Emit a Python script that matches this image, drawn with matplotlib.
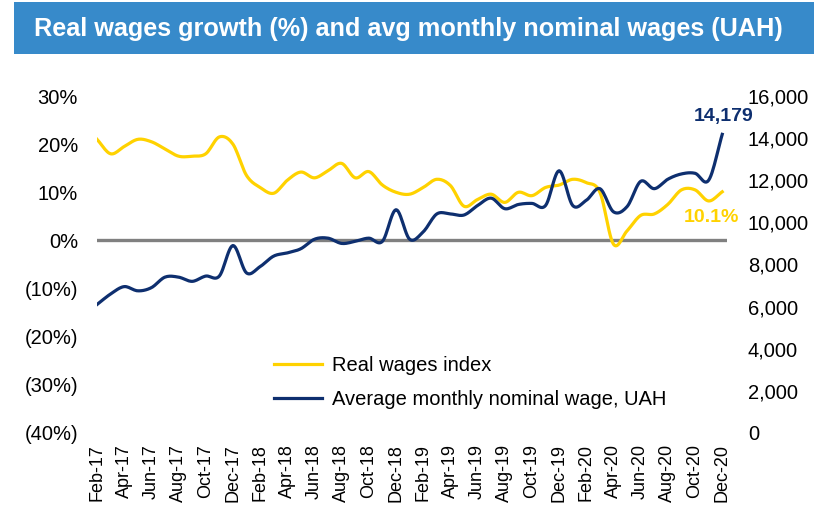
import numpy as np
import matplotlib
matplotlib.use("Agg")
import matplotlib.pyplot as plt
from matplotlib.patches import Rectangle
from matplotlib.ticker import FuncFormatter, FixedLocator

plt.rcParams["font.family"] = ["Liberation Sans", "DejaVu Sans"]

# monthly, Feb-17 .. Dec-20
real_wages = [21.0, 18.0, 19.5, 21.0, 20.5, 19.0, 17.5, 17.5, 18.0, 21.5,
              20.0, 13.5, 11.0, 9.8, 12.5, 14.2, 13.0, 14.5, 16.0, 13.0,
              14.3, 11.5, 10.0, 9.6, 11.0, 12.7, 11.4, 7.1, 8.5, 9.6,
              7.9, 10.0, 9.3, 11.0, 11.5, 12.7, 12.0, 10.0, -0.8, 2.0,
              5.2, 5.5, 7.5, 10.5, 10.5, 8.2, 10.1]
nominal_wage = [6100, 6600, 6950, 6750, 6900, 7400, 7400, 7200, 7450, 7450,
                8900, 7600, 7900, 8400, 8550, 8750, 9200, 9250, 9000, 9100,
                9250, 9100, 10600, 9200, 9550, 10400, 10400, 10350, 10800, 11150,
                10650, 10850, 10900, 10800, 12450, 10800, 11050, 11600, 10500, 10750,
                11950, 11600, 12050, 12300, 12330, 12000, 14179]
tick_labels = ["Feb-17", "Apr-17", "Jun-17", "Aug-17", "Oct-17", "Dec-17",
               "Feb-18", "Apr-18", "Jun-18", "Aug-18", "Oct-18", "Dec-18",
               "Feb-19", "Apr-19", "Jun-19", "Aug-19", "Oct-19", "Dec-19",
               "Feb-20", "Apr-20", "Jun-20", "Aug-20", "Oct-20", "Dec-20"]

YELLOW = "#FFD200"
NAVY = "#0E2F6F"
BANNER = "#378ACA"


def smooth(x, y, n=12):
    """Catmull-Rom curve through the points, like Excel's smoothed line."""
    x = np.asarray(x, float)
    y = np.asarray(y, float)
    px = np.concatenate([[2 * x[0] - x[1]], x, [2 * x[-1] - x[-2]]])
    py = np.concatenate([[2 * y[0] - y[1]], y, [2 * y[-1] - y[-2]]])
    t = np.linspace(0, 1, n, endpoint=False)
    xs, ys = [], []
    for i in range(1, len(px) - 2):
        for p, out in ((px, xs), (py, ys)):
            p0, p1, p2, p3 = p[i - 1], p[i], p[i + 1], p[i + 2]
            out.extend(0.5 * (2 * p1 + (-p0 + p2) * t
                              + (2 * p0 - 5 * p1 + 4 * p2 - p3) * t ** 2
                              + (-p0 + 3 * p1 - 3 * p2 + p3) * t ** 3))
    xs.append(x[-1])
    ys.append(y[-1])
    return np.array(xs), np.array(ys)


fig = plt.figure(figsize=(8.14, 5.17), dpi=100)

# title banner
fig.add_artist(Rectangle((14 / 814, 1 - 54 / 517), 800 / 814, 52 / 517,
                         transform=fig.transFigure, color=BANNER, lw=0))
fig.text(34 / 814, 1 - 36 / 517,
         "Real wages growth (%) and avg monthly nominal wages (UAH)",
         color="white", fontsize=18.2, fontweight="bold", va="baseline", ha="left")

ax = fig.add_axes([97 / 814, 1 - 433 / 517, 630 / 814, 337 / 517])
ax2 = ax.twinx()

months = np.arange(len(real_wages))

ax.axhline(0, color="#808080", lw=2.4, zorder=1)
sx, sy = smooth(months, np.array(real_wages) / 100)
ax.plot(sx, sy, color=YELLOW, lw=2.3, label="Real wages index", zorder=2)
nx, ny = smooth(months, nominal_wage)
ax2.plot(nx, ny, color=NAVY, lw=2.3, label="Average monthly nominal wage, UAH")

ax.set_xlim(0, 46.35)
ax.set_ylim(-0.40, 0.30)
ax2.set_ylim(0, 16000)
ax.set_yticks(np.arange(-0.40, 0.31, 0.10))
ax2.set_yticks(np.arange(0, 16001, 2000))


def pct(v, pos):
    v = round(v * 100)
    return f"({abs(v)}%)" if v < 0 else f"{v}%"


ax.yaxis.set_major_formatter(FuncFormatter(pct))
ax2.yaxis.set_major_formatter(FuncFormatter(lambda v, p: f"{v:,.0f}"))
ax.xaxis.set_major_locator(FixedLocator(months[::2]))
ax.set_xticklabels(tick_labels, rotation=90)

ax.tick_params(axis="x", length=0, pad=8, labelsize=13)
ax.tick_params(axis="y", length=0, pad=13.7, labelsize=14.5)
ax2.tick_params(axis="y", length=0, pad=15, labelsize=14.5)
for a in (ax, ax2):
    for s in a.spines.values():
        s.set_visible(False)

# end labels
ax2.annotate("14,179", (46.1, nominal_wage[-1]), xytext=(0, 7),
             textcoords="offset points", color=NAVY, fontsize=14,
             fontweight="bold", ha="center", va="bottom")
ax.text(45.2, 0.048, "10.1%", color=YELLOW, fontsize=14, fontweight="bold",
        ha="center", va="center")

h1, l1 = ax.get_legend_handles_labels()
h2, l2 = ax2.get_legend_handles_labels()
ax2.legend(h1 + h2, l1 + l2, loc="upper left", frameon=False, fontsize=14.5,
           bbox_to_anchor=(264 / 814, 1 - 346 / 517), bbox_transform=fig.transFigure,
           borderpad=0, handlelength=2.4, handletextpad=0.5, labelspacing=0.75)

fig.savefig("out.png", dpi=100)
